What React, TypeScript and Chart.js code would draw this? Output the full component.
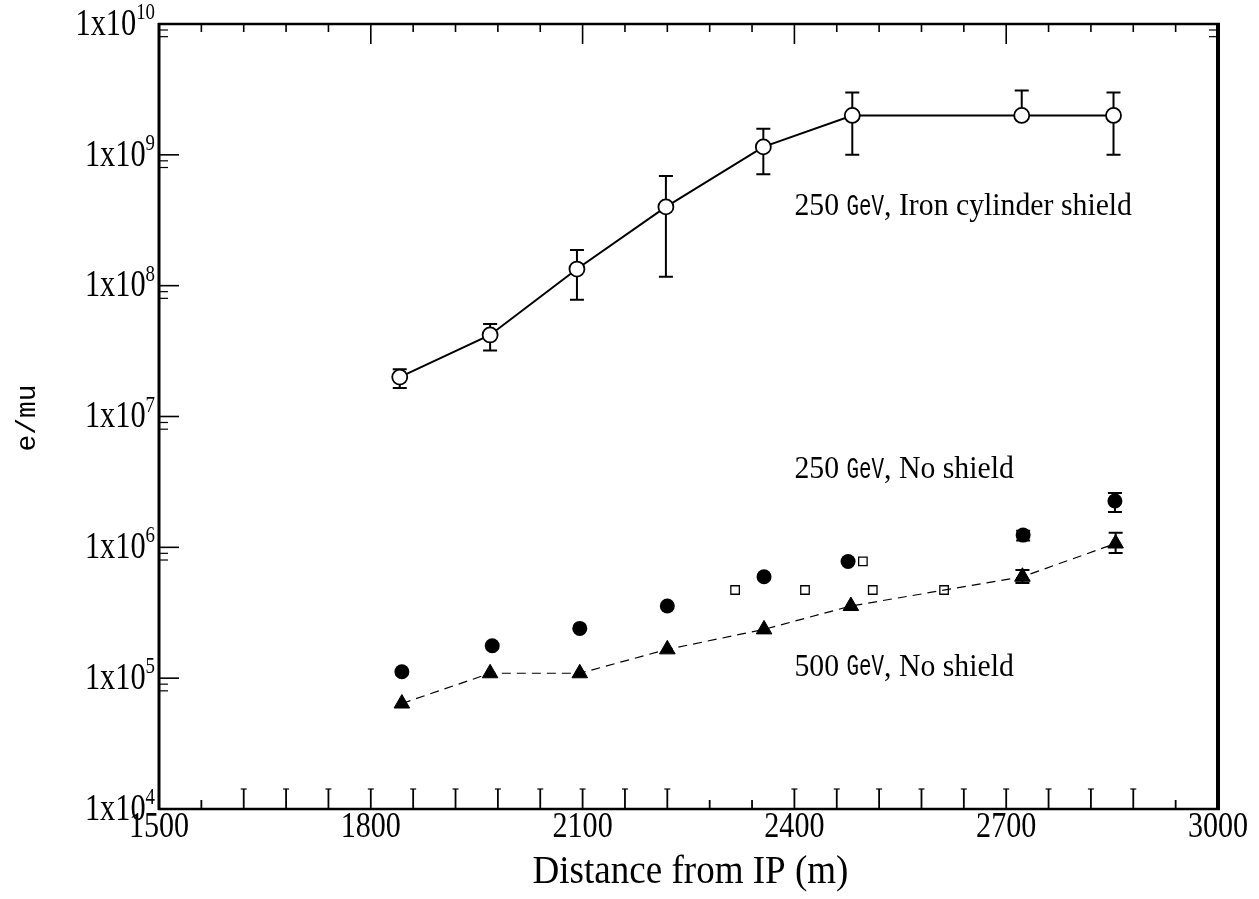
import { useEffect, useRef } from 'react';
import { Chart, registerables } from 'chart.js';

Chart.register(...registerables);

// ---------- data ----------
const xMin = 1500;
const xMax = 3000;
const yMin = 1e4;
const yMax = 1e10;
const xLabelTicks = [1500, 1800, 2100, 2400, 2700, 3000];
const xMinorStep = 60;
const bottomShortTicks = [1560, 2280, 2340, 2940];
const yDecades = [4, 5, 6, 7, 8, 9, 10];

const ironX = [1841, 1969, 2092, 2218, 2356, 2482, 2722, 2852];
const ironY = [2.0e7, 4.2e7, 1.34e8, 4.0e8, 1.15e9, 2.0e9, 2.0e9, 2.0e9];
const ironHi = [2.3e7, 5.1e7, 1.87e8, 6.9e8, 1.58e9, 3.0e9, 3.1e9, 3.0e9];
const ironLo = [1.65e7, 3.2e7, 7.8e7, 1.17e8, 7.1e8, 1.0e9, null, 1.0e9];

const ns250X = [1844, 1972, 2096, 2220, 2357, 2476, 2724, 2854];
const ns250Y = [1.12e5, 1.77e5, 2.4e5, 3.56e5, 5.96e5, 7.8e5, 1.24e6, 2.26e6];
const ns250Hi = [null, null, null, null, null, null, 1.34e6, 2.6e6];
const ns250Lo = [null, null, null, null, null, null, 1.13e6, 1.86e6];

const ns500X = [1844, 1969, 2096, 2220, 2357, 2480, 2723, 2855];
const ns500Y = [6.4e4, 1.09e5, 1.09e5, 1.66e5, 2.36e5, 3.56e5, 5.96e5, 1.07e6];
const ns500Hi = [null, null, null, null, null, null, 6.7e5, 1.29e6];
const ns500Lo = [null, null, null, null, null, null, 5.33e5, 9.06e5];

const boxX = [2316, 2415, 2497, 2511, 2612];
const boxY = [4.72e5, 4.72e5, 7.8e5, 4.72e5, 4.72e5];

const seriesLabels = ['250 GeV, Iron cylinder shield', '250 GeV, No shield', '500 GeV, No shield'];
const labelYValues = [4.0e8, 3.9e6, 1.2e5];
const xTitle = 'Distance from IP (m)';
const yTitle = 'e/mu';

const SERIF = "'Liberation Serif', 'Times New Roman', serif";
const MONO = "'Liberation Mono', 'DejaVu Sans Mono', monospace";

const toPts = (xs: number[], ys: number[]) => xs.map((x, i) => ({ x, y: ys[i] }));

const errorSets = [
  { ds: 0, lo: ironLo, hi: ironHi, cap: 7, width: 2 },
  { ds: 1, lo: ns250Lo, hi: ns250Hi, cap: 7, width: 2 },
  { ds: 2, lo: ns500Lo, hi: ns500Hi, cap: 7, width: 2 },
];

const errorBarPlugin = {
  id: 'errorBars',
  beforeDatasetsDraw(chart: any) {
    const ctx = chart.ctx;
    const xs = chart.scales.x;
    const ys = chart.scales.y;
    ctx.save();
    ctx.strokeStyle = '#000';
    errorSets.forEach((set) => {
      const data = chart.data.datasets[set.ds].data as { x: number; y: number }[];
      ctx.lineWidth = set.width;
      data.forEach((p, i) => {
        const px = xs.getPixelForValue(p.x);
        const py = ys.getPixelForValue(p.y);
        const hi = set.hi[i];
        const lo = set.lo[i];
        [hi, lo].forEach((v) => {
          if (v == null) return;
          const pe = ys.getPixelForValue(v);
          ctx.beginPath();
          ctx.moveTo(px, py);
          ctx.lineTo(px, pe);
          ctx.moveTo(px - set.cap, pe);
          ctx.lineTo(px + set.cap, pe);
          ctx.stroke();
        });
      });
    });
    ctx.restore();
  },
};

// condensed text helper: draws text with horizontal squeeze sx
function fillCond(
  ctx: CanvasRenderingContext2D,
  text: string,
  x: number,
  y: number,
  font: string,
  sx: number,
  align: 'left' | 'center' | 'right'
) {
  ctx.save();
  ctx.font = font;
  ctx.textBaseline = 'middle';
  ctx.textAlign = align;
  ctx.translate(x, y);
  ctx.scale(sx, 1);
  ctx.fillText(text, 0, 0);
  ctx.restore();
}

function condWidth(ctx: CanvasRenderingContext2D, text: string, font: string, sx: number) {
  ctx.save();
  ctx.font = font;
  const w = ctx.measureText(text).width * sx;
  ctx.restore();
  return w;
}

function drawSegments(ctx: CanvasRenderingContext2D, x: number, y: number, segs: [string, string, number][]) {
  let cx = x;
  segs.forEach(([text, font, sx]) => {
    fillCond(ctx, text, cx, y, font, sx, 'left');
    cx += condWidth(ctx, text, font, sx);
  });
}

function labelSegs(label: string): [string, string, number][] {
  const idx = label.indexOf('GeV');
  return [
    [label.slice(0, idx), `32px ${SERIF}`, 0.93],
    ['GeV', `29px ${MONO}`, 0.72],
    [label.slice(idx + 3), `32px ${SERIF}`, 0.93],
  ];
}

const framePlugin = {
  id: 'frame',
  afterDraw(chart: any) {
    const ctx: CanvasRenderingContext2D = chart.ctx;
    const { left, right, top, bottom } = chart.chartArea;
    const xs = chart.scales.x;
    const ys = chart.scales.y;
    const line = (x1: number, y1: number, x2: number, y2: number, w: number) => {
      ctx.lineWidth = w;
      ctx.beginPath();
      ctx.moveTo(x1, y1);
      ctx.lineTo(x2, y2);
      ctx.stroke();
    };
    ctx.save();
    ctx.strokeStyle = '#000';
    ctx.fillStyle = '#000';
    // frame
    line(left - 1, top, right + 2, top, 2.5);
    line(left - 1, bottom, right + 2, bottom, 2.5);
    line(left, top - 1, left, bottom + 1, 3);
    line(right, top - 1, right, bottom + 1, 4);

    // x ticks
    for (let v = xMin + xMinorStep; v < xMax; v += xMinorStep) {
      const px = xs.getPixelForValue(v);
      const major = xLabelTicks.includes(v);
      line(px, top, px, top + (major ? 20 : 8), 1.6);
      const short = bottomShortTicks.includes(v);
      const len = short ? 9 : 20;
      line(px, bottom, px, bottom - len, 1.8);
      if (!short) line(px - 3, bottom - len, px + 3, bottom - len, 1.2);
    }

    // y ticks
    yDecades.forEach((e) => {
      const py = ys.getPixelForValue(Math.pow(10, e));
      line(left, py, left + 20, py, 1.6);
      [9, 8].forEach((m) => {
        const v = m * Math.pow(10, e - 1);
        if (v >= yMin) {
          const p2 = ys.getPixelForValue(v);
          line(left, p2, left + 9, p2, 1.2);
          if (e === 10) line(right, p2, right - 9, p2, 1.2);
        }
      });
    });

    // y tick labels: 1x10^e
    const baseFont = `37px ${SERIF}`;
    const supFont = `23px ${SERIF}`;
    yDecades.forEach((e) => {
      const py = ys.getPixelForValue(Math.pow(10, e));
      const base = '1x10';
      const sup = String(e);
      const sw = condWidth(ctx, sup, supFont, 0.82);
      const bw = condWidth(ctx, base, baseFont, 0.82);
      const xEnd = left - 4;
      fillCond(ctx, base, xEnd - sw - bw, py + 1, baseFont, 0.82, 'left');
      fillCond(ctx, sup, xEnd - sw, py - 11, supFont, 0.82, 'left');
    });

    // x tick labels
    xLabelTicks.forEach((v) => {
      fillCond(ctx, String(v), xs.getPixelForValue(v), bottom + 19, `35px ${SERIF}`, 0.86, 'center');
    });

    // axis titles
    fillCond(ctx, xTitle, (left + right) / 2 + 2, bottom + 64, `39px ${SERIF}`, 0.95, 'center');
    ctx.save();
    ctx.translate(28, 418);
    ctx.rotate(-Math.PI / 2);
    ctx.font = `28px ${MONO}`;
    ctx.textAlign = 'center';
    ctx.textBaseline = 'middle';
    ctx.fillText(yTitle, 0, 0);
    ctx.restore();

    // series annotations
    const annX = xs.getPixelForValue(2400);
    seriesLabels.forEach((lab, i) => {
      drawSegments(ctx, annX, ys.getPixelForValue(labelYValues[i]), labelSegs(lab));
    });
    ctx.restore();
  },
};

export default function App() {
  const ref = useRef<HTMLCanvasElement | null>(null);
  useEffect(() => {
    document.body.style.margin = '0';
    if (!ref.current) return;
    const chart = new Chart(ref.current, {
      type: 'scatter',
      data: {
        datasets: [
          {
            label: seriesLabels[0],
            data: toPts(ironX, ironY),
            showLine: true,
            borderColor: '#000',
            borderWidth: 2,
            tension: 0,
            pointStyle: 'circle',
            pointRadius: 7.5,
            pointBackgroundColor: '#fff',
            pointBorderColor: '#000',
            pointBorderWidth: 1.8,
          },
          {
            label: seriesLabels[1],
            data: toPts(ns250X, ns250Y),
            showLine: false,
            pointStyle: 'circle',
            pointRadius: 7.5,
            pointBackgroundColor: '#000',
            pointBorderColor: '#000',
            pointBorderWidth: 0,
          },
          {
            label: seriesLabels[2],
            data: toPts(ns500X, ns500Y),
            showLine: true,
            borderColor: '#000',
            borderWidth: 1.2,
            borderDash: [9, 6],
            tension: 0,
            pointStyle: 'triangle',
            pointRadius: 9,
            pointBackgroundColor: '#000',
            pointBorderColor: '#000',
            pointBorderWidth: 1,
          },
          {
            label: 'open squares',
            data: toPts(boxX, boxY),
            showLine: false,
            pointStyle: 'rect',
            pointRadius: 6,
            pointBackgroundColor: '#fff',
            pointBorderColor: '#000',
            pointBorderWidth: 1.3,
          },
        ],
      },
      options: {
        animation: false,
        responsive: false,
        maintainAspectRatio: false,
        layout: { padding: { left: 159, top: 24, right: 41, bottom: 90 } },
        plugins: { legend: { display: false }, tooltip: { enabled: false } },
        scales: {
          x: { type: 'linear', min: xMin, max: xMax, display: false },
          y: { type: 'logarithmic', min: yMin, max: yMax, display: false },
        },
      },
      plugins: [errorBarPlugin, framePlugin],
    });
    return () => chart.destroy();
  }, []);
  return (
    <div style={{ width: 1259, height: 899, background: '#fff' }}>
      <canvas ref={ref} width={1259} height={899} style={{ display: 'block' }} />
    </div>
  );
}
